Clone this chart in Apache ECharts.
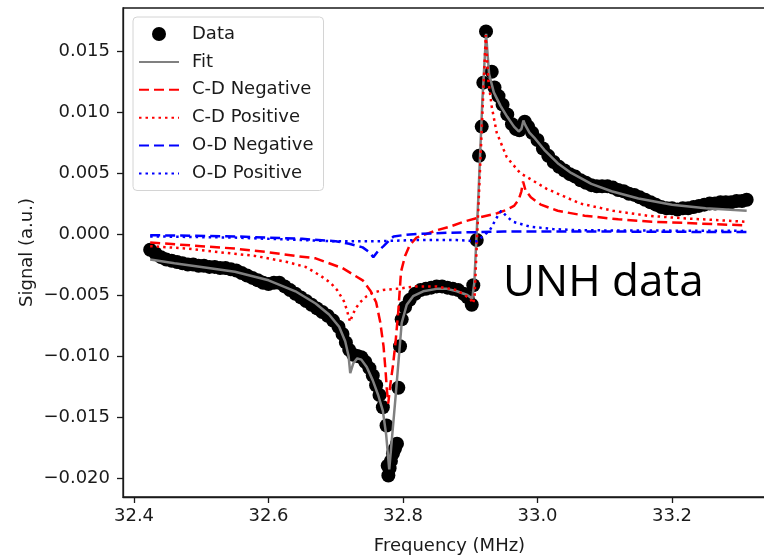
<!DOCTYPE html>
<html>
<head>
<meta charset="utf-8">
<script src="https://cdn.jsdelivr.net/npm/echarts@6/dist/echarts.min.js"></script>
<style>
  html, body { margin: 0; padding: 0; background: #fff; }
  #chart { width: 764px; height: 556px; }
</style>
</head>
<body>
<div id="chart"></div>
<script>
// measured points (MHz, a.u.)
const dataFreq = [32.424, 32.432, 32.440, 32.448, 32.456, 32.464, 32.472, 32.480, 32.488, 32.496,
  32.504, 32.512, 32.520, 32.528, 32.536, 32.544, 32.552, 32.560, 32.568, 32.576,
  32.584, 32.592, 32.600, 32.608, 32.616, 32.624, 32.632, 32.640, 32.648, 32.656,
  32.664, 32.672, 32.680, 32.688, 32.696, 32.704, 32.710, 32.715, 32.720, 32.726,
  32.732, 32.738, 32.744, 32.750, 32.755, 32.760, 32.765, 32.770, 32.7755, 32.7772,
  32.7782, 32.7800, 32.7820, 32.7850, 32.7880, 32.7910, 32.7930, 32.7955, 32.7980, 32.8030,
  32.810, 32.818, 32.826, 32.834, 32.842, 32.850, 32.858, 32.866, 32.874, 32.882,
  32.890, 32.896, 32.9022, 32.9045, 32.9096, 32.9130, 32.9170, 32.9194, 32.9234, 32.9319,
  32.936, 32.942, 32.948, 32.955, 32.962, 32.968, 32.973, 32.977, 32.981, 32.986,
  32.992, 33.000, 33.008, 33.016, 33.024, 33.032, 33.040, 33.048, 33.056, 33.064,
  33.072, 33.080, 33.088, 33.096, 33.104, 33.112, 33.120, 33.128, 33.136, 33.144,
  33.152, 33.160, 33.168, 33.176, 33.184, 33.192, 33.200, 33.208, 33.216, 33.224,
  33.232, 33.240, 33.248, 33.256, 33.264, 33.272, 33.280, 33.288, 33.296, 33.304, 33.311];
const dataSignal = [-0.0013, -0.0016, -0.0019, -0.0021, -0.0022, -0.0023, -0.0024, -0.0025, -0.0025, -0.0026,
  -0.0026, -0.0027, -0.0027, -0.0028, -0.0028, -0.0029, -0.0030, -0.0032, -0.0034, -0.0036,
  -0.0038, -0.0040, -0.0041, -0.0040, -0.0040, -0.0043, -0.0046, -0.0049, -0.0052, -0.0055,
  -0.0058, -0.0061, -0.0064, -0.0067, -0.0071, -0.0076, -0.0082, -0.0089, -0.0095, -0.0099,
  -0.0100, -0.0101, -0.0105, -0.0110, -0.0116, -0.0124, -0.0132, -0.0142, -0.0157, -0.0190,
  -0.0198, -0.0192, -0.0186, -0.0180, -0.0176, -0.0172, -0.0126, -0.0092, -0.0070, -0.0060,
  -0.0054, -0.0049, -0.0046, -0.0045, -0.0044, -0.0043, -0.0043, -0.0044, -0.0045, -0.0046,
  -0.0049, -0.0052, -0.0058, -0.0042, -0.0005, 0.0064, 0.0088, 0.0124, 0.0166, 0.0133,
  0.0120, 0.0113, 0.0106, 0.0098, 0.0090, 0.0086, 0.0085, 0.0088, 0.0092, 0.0088,
  0.0083, 0.0077, 0.0070, 0.0064, 0.0059, 0.0055, 0.0052, 0.0049, 0.0047, 0.0044,
  0.0042, 0.0040, 0.0039, 0.0039, 0.0039, 0.0038, 0.0036, 0.0035, 0.0033, 0.0032,
  0.0030, 0.0028, 0.0026, 0.0024, 0.0022, 0.0021, 0.0021, 0.0020, 0.0021, 0.0021,
  0.0022, 0.0023, 0.0024, 0.0025, 0.0025, 0.0026, 0.0026, 0.0026, 0.0027, 0.0027, 0.0028];

// total fit
const fitFreq = [32.424, 32.46, 32.50, 32.55, 32.60, 32.64, 32.67, 32.69, 32.705, 32.714,
  32.719, 32.7215, 32.726, 32.732, 32.738, 32.746, 32.755, 32.763, 32.770, 32.775,
  32.7795, 32.789, 32.798, 32.8055, 32.815, 32.83, 32.85, 32.865, 32.88, 32.8955,
  32.903, 32.906, 32.912, 32.918, 32.9235, 32.928, 32.935, 32.945, 32.955, 32.965,
  32.972, 32.976, 32.979, 32.982, 32.988, 32.995, 33.01, 33.03, 33.05, 33.08,
  33.11, 33.15, 33.20, 33.25, 33.311];
const fitSignal = [-0.0021, -0.0024, -0.0027, -0.0031, -0.0038, -0.0047, -0.0057, -0.0066, -0.0076, -0.0088,
  -0.0100, -0.0114, -0.0106, -0.0102, -0.0103, -0.0109, -0.0120, -0.0132, -0.0145, -0.0165,
  -0.0193, -0.0133, -0.0073, -0.0058, -0.0051, -0.0047, -0.0045, -0.0045, -0.0047, -0.0050,
  -0.0053, -0.0040, 0.0030, 0.0110, 0.0164, 0.0131, 0.0116, 0.0105, 0.0096, 0.0088,
  0.0084, 0.0086, 0.0093, 0.0089, 0.0083, 0.0079, 0.0069, 0.0058, 0.0050, 0.0041,
  0.0035, 0.0029, 0.0024, 0.0021, 0.0019];

// components
const cdNegFreq = [32.424, 32.50, 32.55, 32.60, 32.64, 32.67, 32.69, 32.71, 32.725, 32.74,
  32.752, 32.760, 32.766, 32.771, 32.774, 32.776, 32.778, 32.781, 32.785, 32.789,
  32.793, 32.797, 32.803, 32.81, 32.82, 32.83, 32.85, 32.87, 32.89, 32.91,
  32.94, 32.955, 32.965, 32.972, 32.976, 32.9785, 32.982, 32.99, 33.005, 33.03,
  33.07, 33.12, 33.17, 33.22, 33.311];
const cdNegSignal = [-0.0007, -0.0010, -0.0012, -0.0015, -0.0018, -0.0020, -0.0024, -0.0028, -0.0033, -0.0038,
  -0.0047, -0.0056, -0.0072, -0.0092, -0.0112, -0.0128, -0.0139, -0.0124, -0.0108, -0.0088,
  -0.0063, -0.0031, -0.0018, -0.0009, -0.0003, -0.0001, 0.0003, 0.0006, 0.0010, 0.0013,
  0.0017, 0.0020, 0.0023, 0.0028, 0.0035, 0.0043, 0.0036, 0.0030, 0.0024, 0.0019,
  0.0015, 0.0012, 0.0010, 0.0009, 0.0007];

const cdPosFreq = [32.424, 32.48, 32.528, 32.58, 32.6275, 32.655, 32.6766, 32.692, 32.702, 32.712,
  32.7163, 32.7212, 32.726, 32.731, 32.736, 32.746, 32.756, 32.77, 32.79, 32.82,
  32.85, 32.88, 32.8996, 32.9045, 32.9065, 32.923, 32.9268, 32.932, 32.9393, 32.9542,
  32.974, 33.0137, 33.0632, 33.1123, 33.163, 33.212, 33.311];
const cdPosSignal = [-0.0010, -0.0012, -0.0015, -0.0018, -0.0023, -0.0027, -0.0034, -0.0040, -0.0046, -0.0055,
  -0.0062, -0.0072, -0.0065, -0.0060, -0.0056, -0.0051, -0.0048, -0.0046, -0.0045, -0.0043,
  -0.0043, -0.0046, -0.0053, -0.0057, -0.0050, 0.0163, 0.0126, 0.0104, 0.0083, 0.0063,
  0.0050, 0.0037, 0.0025, 0.0019, 0.0015, 0.0013, 0.0010];

const odNegFreq = [32.424, 32.55, 32.65, 32.70, 32.72, 32.74, 32.75, 32.7558, 32.763, 32.771,
  32.78, 32.786, 32.80, 32.82, 32.87, 32.95, 33.10, 33.311];
const odNegSignal = [-0.0001, -0.0002, -0.0004, -0.0006, -0.0008, -0.0011, -0.0015, -0.0019, -0.0014, -0.0010,
  -0.0005, -0.0002, -0.0001, 0.0000, 0.0001, 0.0002, 0.0002, 0.00015];

const odPosFreq = [32.424, 32.55, 32.65, 32.70, 32.76, 32.82, 32.88, 32.91, 32.929, 32.937,
  32.942, 32.946, 32.955, 32.9636, 32.9888, 33.023, 33.063, 33.311];
const odPosSignal = [-0.0002, -0.0003, -0.0005, -0.0006, -0.0006, -0.0005, -0.0005, -0.0006, 0.0003, 0.0011,
  0.0016, 0.0019, 0.0014, 0.0010, 0.0006, 0.0004, 0.0003, 0.00025];

const xTicks = [32.4, 32.6, 32.8, 33.0, 33.2];
const yTicks = [-0.020, -0.015, -0.010, -0.005, 0.000, 0.005, 0.010, 0.015];

const pairs = (xs, ys) => xs.map((x, i) => [x, ys[i]]);
const ink = '#1a1a1a';
const font = 'DejaVu Sans';
const fmtY = v => (v < -1e-9 ? '\u2212' : '') + Math.abs(v).toFixed(3);

const chart = echarts.init(document.getElementById('chart'));

function lineSeries(name, xs, ys, color, type) {
  return {
    name: name,
    type: 'line',
    data: pairs(xs, ys),
    symbol: 'none',
    z: 3,
    itemStyle: { color: color },
    lineStyle: { color: color, width: 2.5, type: type }
  };
}

// legend entries for lines: hide the symbol ECharts puts on the handle
const lineEntry = name => ({ name: name, itemStyle: { opacity: 0 } });

chart.setOption({
  animation: false,
  textStyle: { fontFamily: font },
  grid: {
    left: 123, top: 8, width: 653, height: 489,
    outerBoundsMode: 'none', containLabel: false,
    show: true, borderColor: ink, borderWidth: 1.3, backgroundColor: 'transparent'
  },
  xAxis: {
    type: 'value', min: 32.3836, max: 33.3546,
    name: 'Frequency (MHz)', nameLocation: 'middle', nameGap: 40,
    nameTextStyle: { fontSize: 18, color: ink, fontFamily: font },
    axisLine: { show: true, onZero: false, lineStyle: { color: ink, width: 1.3 } },
    axisTick: { show: true, length: 6, customValues: xTicks, lineStyle: { color: ink, width: 1.3 } },
    axisLabel: { customValues: xTicks, fontSize: 18, color: ink, margin: 10, formatter: v => v.toFixed(1) },
    splitLine: { show: false }
  },
  yAxis: {
    type: 'value', min: -0.02156, max: 0.01852,
    name: 'Signal (a.u.)', nameLocation: 'middle', nameGap: 87, nameMoveOverlap: false,
    nameTextStyle: { fontSize: 18, color: ink, fontFamily: font },
    axisLine: { show: true, onZero: false, lineStyle: { color: ink, width: 1.3 } },
    axisTick: { show: true, length: 6, customValues: yTicks, lineStyle: { color: ink, width: 1.3 } },
    axisLabel: { customValues: yTicks, fontSize: 18, color: ink, margin: 13, formatter: fmtY },
    splitLine: { show: false }
  },
  legend: {
    orient: 'vertical', left: 133, top: 17,
    itemWidth: 40, itemHeight: 14, itemGap: 9.9,
    padding: [8, 10, 8, 5],
    borderColor: '#d4d4d4', borderWidth: 1, borderRadius: 4,
    backgroundColor: 'rgba(255,255,255,0.85)',
    textStyle: { fontSize: 18, color: ink, fontFamily: font, padding: [0, 0, 0, 8] },
    data: [
      'Data',
      lineEntry('Fit'),
      lineEntry('C-D Negative'),
      lineEntry('C-D Positive'),
      lineEntry('O-D Negative'),
      lineEntry('O-D Positive')
    ]
  },
  graphic: [{
    type: 'text', left: 503, top: 261, z: 10,
    style: { text: 'UNH data', fill: '#000', font: '44px "Open Sans"' }
  }],
  series: [
    {
      name: 'Data', type: 'scatter', data: pairs(dataFreq, dataSignal),
      symbol: 'circle', symbolSize: 14, z: 1,
      itemStyle: { color: '#000', opacity: 1 }
    },
    lineSeries('Fit', fitFreq, fitSignal, '#808080', 'solid'),
    lineSeries('C-D Negative', cdNegFreq, cdNegSignal, '#ff0000', [10, 5]),
    lineSeries('C-D Positive', cdPosFreq, cdPosSignal, '#ff0000', [2.5, 4]),
    lineSeries('O-D Negative', odNegFreq, odNegSignal, '#0000ff', [10, 5]),
    lineSeries('O-D Positive', odPosFreq, odPosSignal, '#0000ff', [2.5, 4])
  ]
});
</script>
</body>
</html>
